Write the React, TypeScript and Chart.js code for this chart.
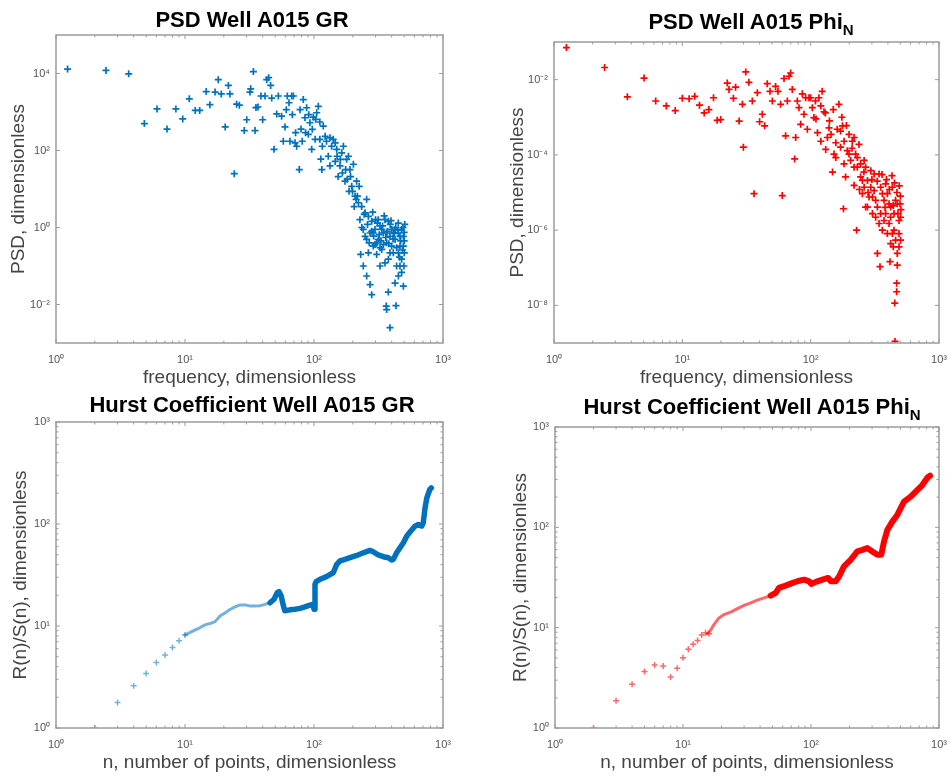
import React, { useEffect, useRef } from 'react';
import { Chart, registerables } from 'chart.js';

Chart.register(...registerables);

const FONT = "'Liberation Sans', Arial, Helvetica, sans-serif";
const BLUE = '#0072BD';
const BLUE_LIGHT = 'rgba(0,114,189,0.55)';
const RED = '#FF0000';
const RED_LIGHT = 'rgba(255,0,0,0.6)';

// ---------- PSD Well A015 GR : [frequency, PSD] ----------
const psdGrPoints: [number, number][] = [
  [1.23, 13000], [2.44, 12000], [3.66, 9800], [4.84, 500], [6.07, 1200], [7.25, 360], [8.5, 1200], [9.6, 660],
  [10.8, 2200], [12, 1100], [13, 1100], [14.6, 3400], [15.6, 1550], [17.1, 3300], [18.1, 6900], [19.1, 2950],
  [20.5, 410], [21.7, 4900], [22.3, 2950], [24.1, 25], [25.1, 1600], [26.4, 1500], [28.8, 330], [30.1, 630],
  [31.9, 3300], [32.3, 4000], [33.9, 11200], [34.9, 330], [35.5, 1300], [36.8, 1350], [40, 630], [38.8, 2600],
  [41.7, 2600], [43, 6900], [44.5, 7800], [46.1, 4900], [47, 2300], [49, 107], [51.4, 890], [52.9, 2600],
  [56.1, 780], [57.8, 174], [59.6, 410], [62.1, 2600], [65.1, 174], [67.1, 2600], [69.2, 2600], [71.3, 158],
  [73.4, 129], [76.9, 32], [79.3, 360], [82.6, 2100], [85.1, 710], [87.7, 1290], [90.4, 263], [93, 525],
  [96, 107], [98.8, 740], [102, 195], [105, 955], [108, 1400], [111, 550], [113, 60], [115, 32], [118, 430],
  [122, 234], [125, 174], [129, 71], [133, 40], [137, 129], [141, 195], [146, 52], [150, 107], [154, 21],
  [159, 40], [164, 87], [169, 129], [174, 16], [179, 59], [185, 71], [190, 32], [196, 11.7], [202, 44],
  [208, 6.5], [212, 5.4], [214, 16], [221, 4.4], [227, 1.6], [234, 3.5], [241, 0.89], [249, 2.4], [256, 5.4],
  [249, 0.59], [264, 1.95], [272, 0.72], [280, 1.45], [230, 0.2], [241, 0.1], [288, 0.33], [297, 0.89],
  [306, 0.2], [315, 0.49], [325, 1.1], [256, 0.055], [335, 0.27], [345, 0.72], [355, 1.6], [272, 0.033],
  [280, 0.018], [366, 0.4], [377, 0.15], [388, 0.59], [400, 0.89], [412, 0.22], [425, 0.49], [437, 0.1],
  [451, 0.72], [464, 0.33], [478, 0.15], [493, 0.59], [478, 0.068], [493, 0.03], [501, 0.22], [366, 0.0074],
  [432, 0.0093], [377, 0.021], [388, 0.0025], [363, 0.0091], [425, 0.036], [451, 0.055],
  [256, 0.49], [288, 0.72], [306, 0.4], [325, 0.3], [345, 0.36], [366, 0.72], [400, 0.33], [437, 0.3],
  [464, 0.59], [493, 0.33], [412, 0.72], [335, 0.89], [297, 0.36], [264, 0.22], [451, 0.22], [478, 0.89],
  [388, 0.22], [355, 0.12], [325, 0.1], [464, 0.1], [498, 0.1], [425, 0.89], [377, 1.45], [315, 1.6],
  [111, 195], [116, 129], [133, 214], [146, 158], [151, 71], [160, 59], [166, 26], [176, 32], [181, 18],
  [187, 8.7], [192, 21], [199, 8.7], [205, 3.5], [217, 6.5], [224, 11.7],
  [61, 1150], [64, 1740], [68, 850], [72, 290], [78, 1150], [81, 174], [86, 290], [91, 850], [97, 355], [103, 645],
  [260, 1.2], [290, 0.6], [310, 1.3], [330, 0.45], [350, 2.0], [370, 0.8], [390, 1.2], [410, 0.5], [430, 1.0],
  [450, 1.3], [470, 0.45], [490, 1.0], [500, 0.75], [280, 0.8], [300, 1.6], [320, 0.65], [340, 1.1], [360, 0.55],
  [380, 0.38], [395, 1.5], [420, 0.7], [445, 0.85], [460, 0.17], [485, 0.26], [500, 0.45], [505, 1.2],
  [235, 1.0], [245, 2.2], [268, 0.4], [285, 2.5],
];

// ---------- PSD Well A015 PhiN : [frequency, PSD] ----------
const psdPhiPoints: [number, number][] = [
  [1.25, 0.071], [2.48, 0.021], [3.73, 0.0035], [5.03, 0.011], [6.2, 0.0027], [7.5, 0.002], [8.8, 0.0015],
  [10, 0.0032], [11.3, 0.0031], [12.5, 0.0036], [13.6, 0.0021], [14.8, 0.0013], [16.1, 0.0016], [17.5, 0.0033],
  [18.7, 0.00083], [19.9, 0.00087], [22.4, 0.0081], [23.1, 0.0055], [26, 0.0063], [25, 0.0032], [27.7, 0.00079],
  [29.4, 0.0022], [31.2, 0.016], [33, 0.0085], [29.9, 0.00016], [35.1, 0.0027], [36.2, 9.3e-6], [38.4, 0.0045],
  [40, 0.00076], [42, 0.0012], [43.8, 0.00059], [45.9, 0.0078], [48.2, 0.0049], [50.3, 0.0027], [53.3, 0.0066],
  [55.6, 0.0049], [58.3, 0.0022], [60.1, 8.3e-6], [62, 0.0107], [63.8, 0.00032], [65.8, 0.0027], [67.8, 0.0123],
  [69.8, 0.015], [71.9, 0.0055], [75, 7.8e-5], [76.4, 0.00029], [78.7, 0.0027], [81.1, 0.0018], [83.6, 0.00065],
  [86.1, 0.0042], [88.7, 0.0012], [91.4, 0.0033], [94.2, 0.00048], [97, 0.0033], [100, 0.0033], [103, 0.0018],
  [106, 0.00098], [109, 0.0027], [113, 0.00039], [116, 0.0033], [120, 0.00023], [123, 0.0049], [127, 0.0014],
  [131, 0.00014], [135, 0.00029], [139, 0.00052], [148, 3.5e-5], [152, 0.000105], [157, 0.00021], [161, 0.00048],
  [166, 0.0022], [171, 0.00016], [177, 0.00059], [182, 5.8e-5], [187, 2.6e-5], [180, 3.7e-6], [193, 0.000129],
  [199, 0.00035], [205, 7.1e-5], [211, 0.00023], [218, 1.55e-5], [224, 0.000105], [228, 1e-6], [231, 4.7e-5],
  [238, 0.00019], [245, 2.6e-5], [253, 9.3e-6], [261, 7.1e-5], [268, 4.1e-6], [277, 2.1e-5], [285, 7.6e-6],
  [294, 3.8e-5], [303, 2.75e-6], [312, 1.12e-5], [321, 6.2e-6], [331, 2.4e-7], [341, 3.1e-5], [347, 1.07e-7],
  [351, 2.75e-6], [362, 9.3e-6], [373, 1.8e-6], [384, 1.7e-5], [396, 8.1e-7], [408, 5e-6], [415, 1.45e-7],
  [420, 2.2e-6], [433, 1.38e-5], [440, 3.6e-7], [446, 1e-6], [452, 1.15e-8], [454, 1.1e-9], [459, 6.2e-6],
  [468, 3.9e-8], [468, 2.3e-8], [473, 2.4e-7], [479, 2.75e-6], [488, 8.1e-7], [497, 5e-6], [502, 5.4e-7],
  [473, 1.17e-7],
  [231, 8.5e-5], [268, 4.7e-5], [294, 1.38e-5], [312, 3.1e-5], [331, 4.1e-6], [351, 1.38e-5], [373, 6.2e-6],
  [396, 9.3e-6], [420, 4.1e-6], [446, 2.75e-6], [473, 5e-6], [488, 1.8e-6], [408, 1.5e-6], [384, 2.75e-6],
  [362, 1e-6], [341, 1.5e-6], [321, 2.2e-6], [303, 7.6e-6], [277, 4.1e-6], [253, 2.1e-5], [245, 5.8e-5],
  [218, 4.7e-5], [199, 0.000105], [182, 0.00023], [171, 0.00043], [157, 8.5e-5], [144, 0.00035], [218, 0.00029],
  [261, 1.38e-5], [433, 8.1e-7], [459, 5.4e-7], [420, 4.4e-7], [502, 2.2e-6], [488, 3.6e-7],
  [330, 2e-5], [360, 3e-5], [390, 2.2e-5], [410, 1.2e-5], [430, 2.8e-5], [450, 1.8e-5], [470, 1e-5],
  [490, 1.5e-5], [500, 8e-6], [505, 3.5e-6], [380, 4e-6], [440, 4.5e-6], [300, 2.2e-5], [280, 1e-5],
  [260, 3.5e-5], [240, 1.2e-5], [210, 1.5e-4], [190, 6e-4], [175, 1e-3], [150, 1.6e-3], [140, 8e-4],
  [130, 1.3e-3], [120, 2e-3], [110, 9e-4],
];

// ---------- Hurst Coefficient Well A015 GR : [n, R(n)/S(n)] ----------
const hurstGrSparse: [number, number][] = [
  [2, 1.0], [3, 1.78], [4, 2.6], [5, 3.43], [6, 4.39], [7, 5.2], [8, 6.15], [9, 7.15], [10, 8.18],
];
const hurstGrThin: [number, number][] = [
  [10, 8.18], [10.9, 8.6], [11.9, 9.1], [13.1, 9.66], [14.3, 10.26], [15.6, 10.57], [17.1, 11.04], [18.7, 12.56],
  [20.4, 13.4], [22.3, 14.5], [24.4, 15.4], [26.7, 16.1], [29.2, 16.1], [31.9, 15.7], [34.9, 15.7], [38.1, 15.8],
  [41.7, 16.3], [45.6, 16.9],
];
const hurstGrThick: [number, number][] = [
  [45.6, 16.9], [49, 18.3], [51.9, 21.2], [53.6, 21.7], [55.7, 19.7], [57.5, 16.3], [59.4, 14.1], [65.1, 14.4],
  [71.3, 14.6], [78, 14.9], [85, 15.4], [93, 16], [98.5, 16.3], [100, 14.6], [101.8, 25.6], [104, 27.2],
  [114, 29.1], [125, 30.5], [133, 32], [141, 33.3], [150, 40.2], [159, 43.4], [174, 45], [190, 46.7],
  [215, 49.2], [241, 52.2], [271, 55.1], [288, 53.5], [315, 49.7], [345, 47.8], [377, 46.7], [400, 44.4],
  [412, 45], [437, 52.2], [464, 58.5], [493, 65.5], [523, 76], [561, 85], [607, 95.3], [644, 98.9],
  [684, 95.3], [703, 102.8], [726, 144], [749, 180], [790, 218], [812, 226],
];

// ---------- Hurst Coefficient Well A015 PhiN : [n, R(n)/S(n)] ----------
const hurstPhiSparse: [number, number][] = [
  [2, 1.0], [3, 1.87], [4, 2.73], [5, 3.65], [6, 4.25], [7, 4.16], [8, 3.23], [9, 3.94], [10, 5.02],
  [11, 6.08], [12, 6.82], [13, 7.47], [14, 8.43], [15, 8.9], [16, 8.7],
];
const hurstPhiThin: [number, number][] = [
  [15.5, 8.7], [16.4, 9.4], [17.5, 10.8], [19.1, 12.5], [20.9, 13.5], [23.6, 14.3], [26.6, 15.5], [30, 16.7],
  [33.8, 17.7], [38.1, 18.8], [43, 19.8], [48.4, 20.9],
];
const hurstPhiThick: [number, number][] = [
  [48.4, 20.9], [53, 22.2], [56.2, 24.9], [61.5, 25.9], [69.4, 27.5], [78.2, 29], [88.2, 30.1], [96.5, 29],
  [100.6, 27.3], [109, 28.6], [123, 30.1], [136, 31.3], [143, 29], [156, 29], [166, 32.5], [181, 40.8],
  [204, 47.5], [230, 57.5], [252, 59.7], [275, 62.1], [301, 57.5], [330, 53.3], [354, 53.3], [372, 72.3],
  [395, 94.4], [432, 114], [472, 133], [533, 180], [601, 202], [678, 236], [741, 264], [811, 312], [851, 327],
];

// ---------- Axis ticks ----------
const xTickValues = [1, 10, 100, 1000];
const xTickLabels = ['10⁰', '10¹', '10²', '10³'];
const psdGrYTickValues = [1e-2, 1, 1e2, 1e4];
const psdGrYTickLabels = ['10⁻²', '10⁰', '10²', '10⁴'];
const psdPhiYTickValues = [1e-8, 1e-6, 1e-4, 1e-2];
const psdPhiYTickLabels = ['10⁻⁸', '10⁻⁶', '10⁻⁴', '10⁻²'];
const hurstYTickValues = [1, 10, 100, 1000];
const hurstYTickLabels = ['10⁰', '10¹', '10²', '10³'];
const minorMultipliers = [2, 3, 4, 5, 6, 7, 8, 9];

const toXY = (arr: [number, number][]) => arr.map(([x, y]) => ({ x, y }));

function minorTicks(majors: number[], min: number, max: number) {
  const out: number[] = [];
  majors.forEach((m) => minorMultipliers.forEach((k) => {
    const v = m * k;
    if (v > min && v < max) out.push(v);
  }));
  return out;
}

const boxPlugin = {
  id: 'matlabBox',
  afterDatasetsDraw(chart: any, _args: any, opts: any) {
    const { ctx, chartArea } = chart;
    const { left, right, top, bottom } = chartArea;
    const xs = chart.scales.x;
    const ys = chart.scales.y;
    ctx.save();
    ctx.strokeStyle = '#9c9c9c';
    ctx.lineWidth = 1;
    const seg = (x1: number, y1: number, x2: number, y2: number) => {
      ctx.beginPath(); ctx.moveTo(x1, y1); ctx.lineTo(x2, y2); ctx.stroke();
    };
    const drawX = (v: number, len: number) => {
      const p = xs.getPixelForValue(v);
      seg(p, bottom, p, bottom - len); seg(p, top, p, top + len);
    };
    const drawY = (v: number, len: number) => {
      const p = ys.getPixelForValue(v);
      seg(left, p, left + len, p); seg(right, p, right - len, p);
    };
    (opts.xMajor || []).forEach((v: number) => drawX(v, 4));
    (opts.xMinor || []).forEach((v: number) => drawX(v, 2.5));
    (opts.yMajor || []).forEach((v: number) => drawY(v, 4));
    (opts.yMinor || []).forEach((v: number) => drawY(v, 2.5));
    ctx.lineWidth = 1.5;
    ctx.strokeRect(left, top, right - left, bottom - top);
    ctx.restore();
  },
};

type PanelSpec = {
  left: number; top: number; width: number; height: number;
  padding: { top: number; right: number; bottom: number; left: number };
  yWidth: number; xHeight: number; yTitlePad: number; xTitlePad: number;
  yMin: number; yMax: number; yTicks: number[]; yLabels: string[]; yMinor: number[];
  yTitle: string; xTitle: string;
  datasets: any[];
};

function makeConfig(p: PanelSpec): any {
  return {
    type: 'scatter',
    data: { datasets: p.datasets },
    options: {
      animation: false,
      responsive: false,
      maintainAspectRatio: false,
      events: [],
      layout: { padding: p.padding },
      plugins: {
        legend: { display: false },
        tooltip: { enabled: false },
        title: { display: false },
        matlabBox: {
          xMajor: xTickValues,
          xMinor: minorTicks(xTickValues, 1, 1000),
          yMajor: p.yTicks,
          yMinor: p.yMinor,
        },
      },
      scales: {
        x: {
          type: 'logarithmic',
          position: 'bottom',
          min: 1,
          max: 1000,
          grid: { display: false, drawTicks: false },
          border: { display: false },
          ticks: {
            autoSkip: false,
            maxRotation: 0,
            padding: 10,
            color: '#555',
            font: { family: FONT, size: 11 },
            callback: (v: any) => {
              const i = xTickValues.findIndex((t) => Math.abs(t - Number(v)) < 1e-9 * t);
              return i >= 0 ? xTickLabels[i] : '';
            },
          },
          afterBuildTicks: (s: any) => { s.ticks = xTickValues.map((value) => ({ value })); },
          afterFit: (s: any) => { s.height = p.xHeight; s.paddingLeft = 0; s.paddingRight = 0; },
          title: {
            display: true,
            text: p.xTitle,
            color: '#444',
            font: { family: FONT, size: 19 },
            padding: { top: 0, bottom: p.xTitlePad },
          },
        },
        y: {
          type: 'logarithmic',
          position: 'left',
          min: p.yMin,
          max: p.yMax,
          grid: { display: false, drawTicks: false },
          border: { display: false },
          ticks: {
            autoSkip: false,
            padding: 6,
            color: '#555',
            font: { family: FONT, size: 11 },
            callback: (v: any) => {
              const i = p.yTicks.findIndex((t) => Math.abs(t - Number(v)) < 1e-6 * t);
              return i >= 0 ? p.yLabels[i] : '';
            },
          },
          afterBuildTicks: (s: any) => { s.ticks = p.yTicks.map((value) => ({ value })); },
          afterFit: (s: any) => { s.width = p.yWidth; s.paddingTop = 0; s.paddingBottom = 0; },
          title: {
            display: true,
            text: p.yTitle,
            color: '#444',
            font: { family: FONT, size: 19 },
            padding: { top: p.yTitlePad, bottom: 0 },
          },
        },
      },
    },
    plugins: [boxPlugin],
  };
}

function crossSet(points: [number, number][], color: string, radius: number, width: number) {
  return {
    data: toXY(points),
    showLine: false,
    pointStyle: 'cross',
    pointRadius: radius,
    pointBorderWidth: width,
    borderColor: color,
    backgroundColor: color,
  };
}

function lineSet(points: [number, number][], color: string, width: number) {
  return {
    data: toXY(points),
    showLine: true,
    pointRadius: 0,
    borderColor: color,
    backgroundColor: color,
    borderWidth: width,
    tension: 0,
    borderJoinStyle: 'round',
    borderCapStyle: 'round',
  };
}

const panels: PanelSpec[] = [
  {
    left: 0, top: 0, width: 474, height: 390,
    padding: { top: 35, right: 31, bottom: 0, left: 0 },
    yWidth: 56, xHeight: 47, yTitlePad: 7.6, xTitlePad: 0.6,
    yMin: 1e-3, yMax: 1e5, yTicks: psdGrYTickValues, yLabels: psdGrYTickLabels, yMinor: [],
    yTitle: 'PSD, dimensionless', xTitle: 'frequency, dimensionless',
    datasets: [crossSet(psdGrPoints, BLUE, 3.5, 1.7)],
  },
  {
    left: 474, top: 0, width: 474, height: 390,
    padding: { top: 42, right: 9, bottom: 0, left: 0 },
    yWidth: 80, xHeight: 47, yTitlePad: 32.6, xTitlePad: 0.6,
    yMin: 1e-9, yMax: 1e-1, yTicks: psdPhiYTickValues, yLabels: psdPhiYTickLabels, yMinor: [],
    yTitle: 'PSD, dimensionless', xTitle: 'frequency, dimensionless',
    datasets: [crossSet(psdPhiPoints, RED, 3.5, 1.7)],
  },
  {
    left: 0, top: 390, width: 474, height: 388,
    padding: { top: 32, right: 31, bottom: 0, left: 0 },
    yWidth: 56, xHeight: 50, yTitlePad: 9.6, xTitlePad: 3.6,
    yMin: 1, yMax: 1000, yTicks: hurstYTickValues, yLabels: hurstYTickLabels,
    yMinor: minorTicks(hurstYTickValues, 1, 1000),
    yTitle: 'R(n)/S(n), dimensionless', xTitle: 'n, number of points, dimensionless',
    datasets: [
      crossSet(hurstGrSparse, BLUE_LIGHT, 3, 1.5),
      lineSet(hurstGrThin, BLUE_LIGHT, 3),
      lineSet(hurstGrThick, BLUE, 5.5),
    ],
  },
  {
    left: 474, top: 390, width: 474, height: 388,
    padding: { top: 37, right: 9, bottom: 0, left: 0 },
    yWidth: 81, xHeight: 50, yTitlePad: 35.6, xTitlePad: 3.6,
    yMin: 1, yMax: 1000, yTicks: hurstYTickValues, yLabels: hurstYTickLabels,
    yMinor: minorTicks(hurstYTickValues, 1, 1000),
    yTitle: 'R(n)/S(n), dimensionless', xTitle: 'n, number of points, dimensionless',
    datasets: [
      crossSet(hurstPhiSparse, RED_LIGHT, 3, 1.5),
      lineSet(hurstPhiThin, RED_LIGHT, 3),
      lineSet(hurstPhiThick, RED, 6),
    ],
  },
];

const titles = [
  { text: 'PSD Well A015 GR', sub: '', cx: 252, cy: 20 },
  { text: 'PSD Well A015 Phi', sub: 'N', cx: 751, cy: 22 },
  { text: 'Hurst Coefficient Well A015 GR', sub: '', cx: 252, cy: 405 },
  { text: 'Hurst Coefficient Well A015 Phi', sub: 'N', cx: 752, cy: 407 },
];

function Panel({ spec }: { spec: PanelSpec }) {
  const ref = useRef<HTMLCanvasElement>(null);
  useEffect(() => {
    const chart = new Chart(ref.current as HTMLCanvasElement, makeConfig(spec));
    return () => chart.destroy();
  }, [spec]);
  return (
    <canvas
      ref={ref}
      width={spec.width}
      height={spec.height}
      style={{ position: 'absolute', left: spec.left, top: spec.top, width: spec.width, height: spec.height, display: 'block' }}
    />
  );
}

export default function App() {
  return (
    <div style={{ position: 'absolute', left: 0, top: 0, width: 948, height: 778, background: '#fff', overflow: 'hidden' }}>
      {panels.map((p, i) => <Panel key={i} spec={p} />)}
      {titles.map((t, i) => (
        <div
          key={'t' + i}
          style={{
            position: 'absolute', left: t.cx - 237, top: t.cy - 13, width: 474, textAlign: 'center',
            fontFamily: FONT, fontWeight: 'bold', fontSize: 22, lineHeight: '26px', color: '#000', whiteSpace: 'nowrap',
          }}
        >
          {t.text}
          {t.sub ? <span style={{ fontSize: 15, position: 'relative', top: 6, lineHeight: 0 }}>{t.sub}</span> : null}
        </div>
      ))}
    </div>
  );
}
